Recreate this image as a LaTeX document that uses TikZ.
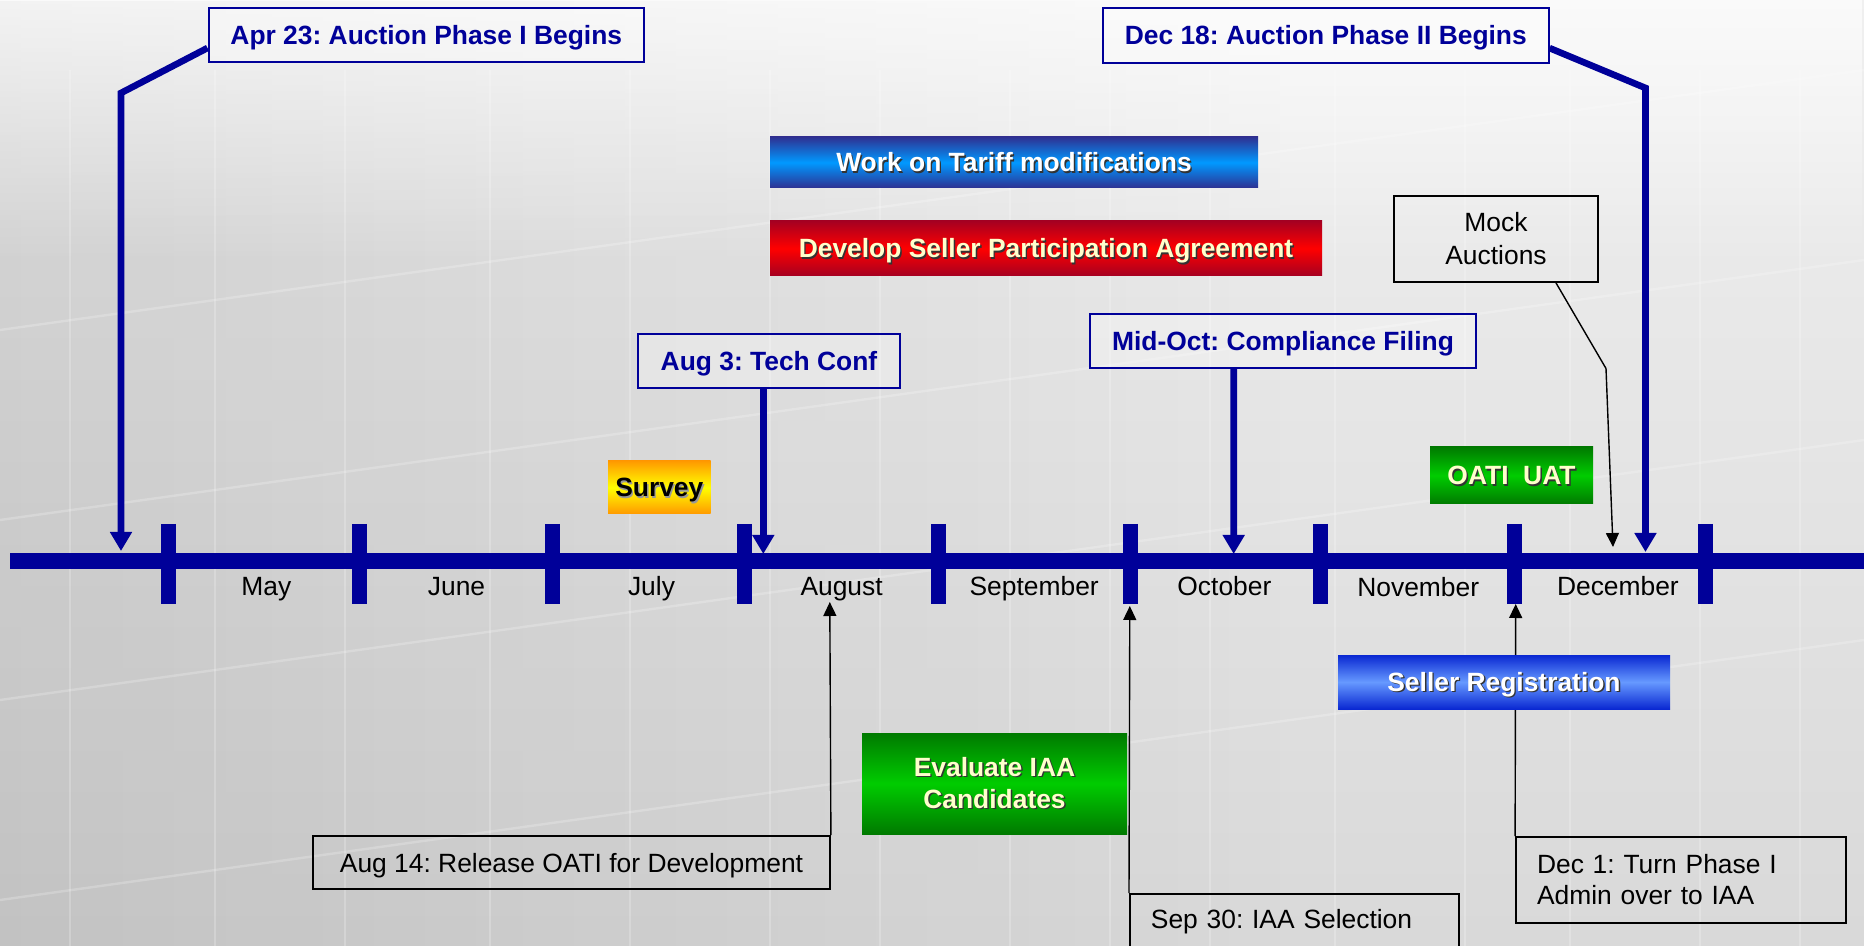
\documentclass[tikz,border=0pt]{standalone}
\usepackage{fontspec}
\setmainfont{Liberation Sans}
\usetikzlibrary{arrows.meta,fadings}
\definecolor{navy}{RGB}{0,0,153}
\definecolor{tarDark}{RGB}{46,49,146}
\definecolor{tarMid}{RGB}{0,153,255}
\definecolor{spaDark}{RGB}{165,0,33}
\definecolor{spaMid}{RGB}{255,0,0}
\definecolor{srvDark}{RGB}{255,153,0}
\definecolor{srvMid}{RGB}{255,255,0}
\definecolor{grnDark}{RGB}{0,122,0}
\definecolor{grnMid}{RGB}{0,204,0}
\definecolor{selDark}{RGB}{10,40,210}
\definecolor{selMid}{RGB}{102,153,255}
\definecolor{paleyel}{RGB}{255,255,204}
\tikzfading[name=fadeR, left color=transparent!0, right color=transparent!100]
\tikzfading[name=fadeD, top color=transparent!0, bottom color=transparent!100]
\pgfdeclarelayer{bg}\pgfdeclarelayer{conn}\pgfsetlayers{bg,conn,main}
\newcommand\fsz{\fontsize{13.2}{15.8}\selectfont\frenchspacing}
\newcommand\shd[3]{\makebox[0pt][l]{\kern0.7pt\raisebox{-0.7pt}{\color{#1}#3}}{\color{#2}#3}}
\begin{document}
\begin{tikzpicture}[x=0.5pt,y=-0.5pt,
  every node/.style={font=\fsz,inner sep=0pt},
  oneline/.style={text height=9.5pt,text depth=0pt},
  bluebox/.style={oneline,draw=navy,line width=1pt,fill=white,fill opacity=0.3,text opacity=1,text=navy,font=\fsz\bfseries},
  blackbox/.style={draw=black,line width=0.9pt},
  gradbox/.style={font=\fsz\bfseries,align=center},
  month/.style={anchor=base},
  bigarrow/.style={navy,line width=3.3pt,-{Triangle[width=10.5pt,length=9.5pt]}},
  smallarrow/.style={black,line width=0.7pt,-{Triangle[width=6.5pt,length=7pt]}},
  monthtick/.style={navy,line width=7.5pt},
]
\useasboundingbox (0,0) rectangle (1864,946);
\clip (0,0) rectangle (1864,946);

\begin{pgfonlayer}{bg}
  \fill[top color=white!94!black,bottom color=white!85!black] (0,0) rectangle (1864,946);
  \fill[black,opacity=0.10,path fading=fadeR] (0,0) rectangle (1300,946);
  \fill[white,opacity=0.7,path fading=fadeD] (0,0) rectangle (1864,260);
  \foreach \x in {70,215,345,490,630,770,880,1010,1110,1210,1335,1465,1570,1700,1800}
    \draw[white,opacity=0.22,line width=1.2pt] (\x,70) -- (\x,946);
  \foreach \y in {330,520,700,900}
    \draw[white,opacity=0.22,line width=1.2pt] (0,\y) -- (1864,\y-260);
  % timeline
  \draw[navy,line width=8pt] (10,561.3) -- (1870,561.3);
  \foreach \x in {168.8,359,552.5,744.5,938.2,1130.6,1320.4,1514.8,1705.7}
    \draw[monthtick] (\x,524) -- (\x,604);
\end{pgfonlayer}

% month labels
\node[month] (may) at (266.3,596) {May};
\node[month] (jun) at (456.5,596) {June};
\node[month] (jul) at (651.5,596) {July};
\node[month] (aug) at (841.6,596) {August};
\node[month] (sep) at (1034.2,595.5) {September};
\node[month] (oct) at (1224.4,595.5) {October};
\node[month] (nov) at (1418.2,596.5) {November};
\node[month] (dec) at (1617.9,595.5) {December};

% milestone boxes
\node[bluebox,minimum width=217.8pt,minimum height=27pt] (apr) at (426.3,35.3) {Apr 23: Auction Phase I Begins};
\node[bluebox,minimum width=222.8pt,minimum height=27.2pt] (dec18) at (1325.8,35.5) {Dec 18: Auction Phase II Begins};
\node[bluebox,minimum width=193pt,minimum height=27pt] (midoct) at (1283,341) {Mid-Oct: Compliance Filing};
\node[bluebox,minimum width=131pt,minimum height=27pt] (aug3) at (769,361) {Aug 3: Tech Conf};

% activity bars
\node[gradbox,oneline,top color=tarDark,bottom color=tarDark,middle color=tarMid,minimum width=244pt,minimum height=25.5pt] (tariff) at (1014,162.5) {\shd{black!80}{white}{Work on Tariff modifications}};
\node[gradbox,oneline,top color=spaDark,bottom color=spaDark,middle color=spaMid,minimum width=276pt,minimum height=27.5pt] (spa) at (1046,248.5) {\shd{black!80}{paleyel}{Develop Seller Participation Agreement}};
\node[gradbox,oneline,top color=srvDark,bottom color=srvDark,middle color=srvMid,minimum width=51.3pt,minimum height=26.5pt] (survey) at (659.3,487.5) {\shd{black!40}{black}{Survey}};
\node[gradbox,oneline,top color=grnDark,bottom color=grnDark,middle color=grnMid,minimum width=81.5pt,minimum height=28.5pt] (oati) at (1511.5,475.5) {\shd{black!80}{paleyel}{OATI\ \ UAT}};
\node[gradbox,oneline,top color=selDark,bottom color=selDark,middle color=selMid,minimum width=166pt,minimum height=27pt] (seller) at (1504,682) {\shd{black!80}{white}{Seller Registration}};
\node[gradbox,top color=grnDark,bottom color=grnDark,middle color=grnMid,minimum width=132.5pt,minimum height=50.5pt] (eval) at (994.5,783.5) {\shd{black!80}{paleyel}{Evaluate IAA}\\\shd{black!80}{paleyel}{Candidates}};

% note boxes
\node[blackbox,align=center,minimum width=102pt,minimum height=43pt,font=\fontsize{13.2}{16.5}\selectfont] (mock) at (1496,239) {Mock\\Auctions};
\node[blackbox,oneline,minimum width=258.5pt,minimum height=26.5pt] (aug14) at (571.5,862.5) {Aug 14: Release OATI for Development};
\node[blackbox,anchor=north west,text height=9.5pt,text depth=5.8pt,minimum height=31pt,align=left,text width=143.5pt,inner xsep=10.5pt] (sep30) at (1129,893) {Sep 30: IAA Selection};
\node[blackbox,align=left,text width=144pt,inner xsep=10.5pt,minimum height=43pt,font=\fontsize{13.2}{15.5}\selectfont\frenchspacing] (dec1) at (1681,880) {Dec 1: Turn Phase I\\Admin over to IAA};

% connector ends
\coordinate (aprK) at (121,93);
\coordinate (aprT) at (121,551);
\coordinate (decK) at (1645.5,88);
\coordinate (decT) at (1645.5,552);
\coordinate (aug3T) at (763.3,554);
\coordinate (midT) at (1233.7,554);
\coordinate (mockK) at (1606,368.5);
\coordinate (mockT) at (1613,547);
\coordinate (aug14T) at (829.8,602);
\coordinate (sep30T) at (1129.8,606);
\coordinate (dec1T) at (1515.7,604);

\begin{pgfonlayer}{conn}
  \draw[bigarrow] ([yshift=-6.35pt]apr.west) -- (aprK) -- (aprT);
  \draw[bigarrow] ([yshift=-6.3pt]dec18.east) -- (decK) -- (decT);
  \draw[bigarrow] ([xshift=-2.85pt]aug3.south) -- (aug3T);
  \draw[bigarrow] ([xshift=-24.65pt]midoct.south) -- (midT);
  \draw[smallarrow] ([xshift=30pt]mock.south) -- (mockK) -- (mockT);
  \draw[smallarrow] (aug14.north east) -- (aug14T);
  \draw[smallarrow] (sep30.north west) -- (sep30T);
  \draw[smallarrow] (dec1.north west) -- (dec1T);
\end{pgfonlayer}
\end{tikzpicture}
\end{document}
